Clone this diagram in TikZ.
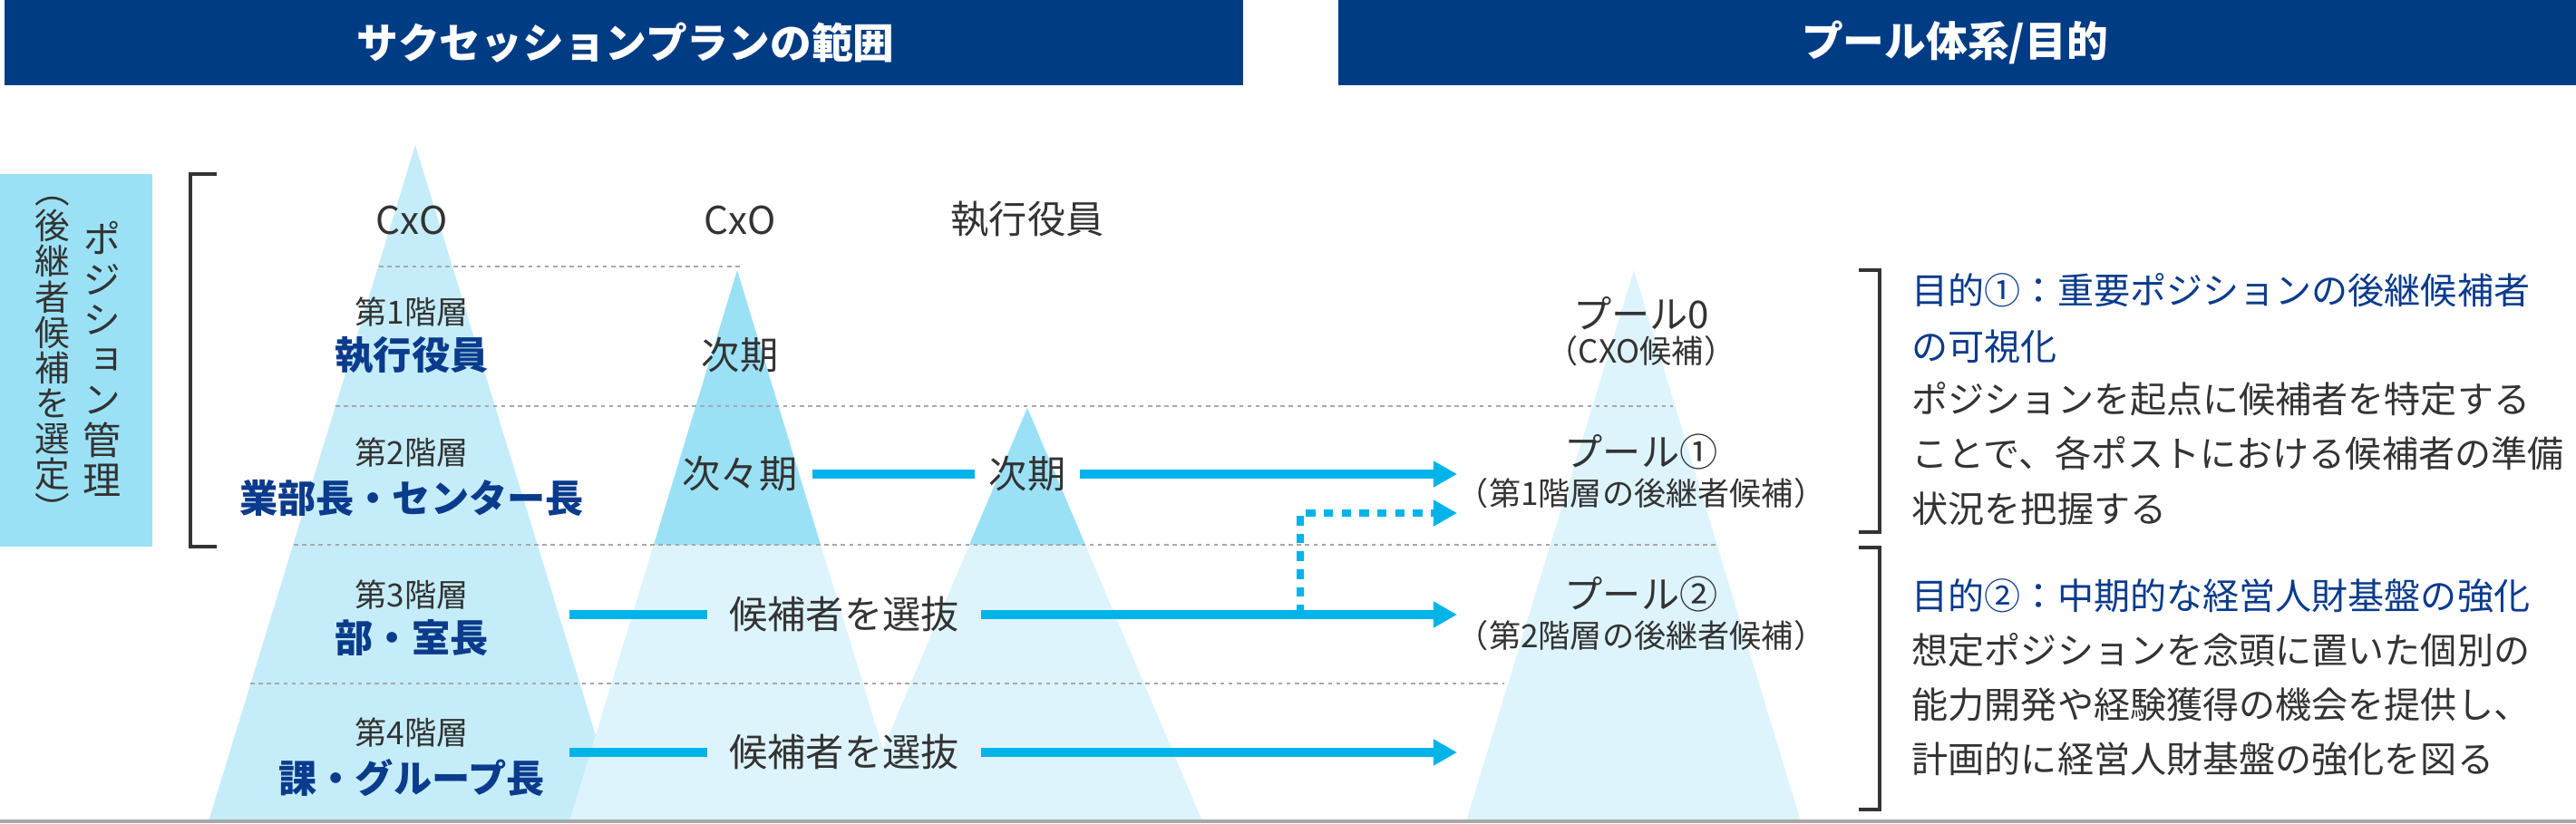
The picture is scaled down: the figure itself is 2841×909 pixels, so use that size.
\documentclass[tikz,border=0pt]{standalone}
\usepackage{fontspec}
\setmainfont{Noto Sans CJK JP}
\newfontfamily\vfont[RawFeature=+vert]{Noto Sans CJK JP}
\usetikzlibrary{arrows.meta}
\definecolor{hdr}{HTML}{003C84}
\definecolor{txt}{HTML}{333333}
\definecolor{bl}{HTML}{0B3B8C}
\definecolor{cy}{HTML}{00B4EA}
\definecolor{triA}{HTML}{C5EDF9}
\definecolor{triL}{HTML}{DDF4FC}
\definecolor{triD}{HTML}{9BE1F6}
\definecolor{gr}{HTML}{A8A8A8}
\tikzset{
  lbl/.style={text=txt,font=\fontsize{12}{14}\selectfont,inner sep=1pt},
  sml/.style={text=txt,font=\fontsize{10}{12}\selectfont,inner sep=1pt},
  blu/.style={text=bl,font=\fontsize{12}{14}\selectfont\bfseries,inner sep=1pt},
  rtxt/.style={text=txt,font=\fontsize{11.4}{14}\selectfont,anchor=base west,inner sep=0pt},
  rhead/.style={rtxt,text=bl},
  divider/.style={gr,line width=0.7pt,dash pattern=on 1.3pt off 1.3pt},
  flow/.style={cy,line width=2.6pt},
  flowarr/.style={flow,-{Triangle[length=7.4pt,width=7.8pt]}},
  dotarr/.style={cy,line width=2.2pt,dash pattern=on 3pt off 2.6pt,-{Triangle[length=7.4pt,width=7.8pt]}},
  brk/.style={txt,line width=0.9pt},
  hbar/.style={fill=hdr,draw=none}
}
\begin{document}
\begin{tikzpicture}[x=0.01cm,y=-0.01cm]
\useasboundingbox (0,0) rectangle (2841,909);
% headers
\fill[hdr] (5,0) rectangle (1371,94);
\fill[hdr] (1476,0) rectangle (2841,94);
\node[text=white,font=\fontsize{13}{15}\selectfont\bfseries] (h1) at (690,47) {サクセッションプランの範囲};
\node[text=white,font=\fontsize{13}{15}\selectfont\bfseries] (h2) at (2156,47) {プール体系/目的};
% triangles
\fill[triA] (458,160) -- (686,906) -- (230,906) -- cycle;
\fill[triL] (813,298) -- (998,906) -- (628,906) -- cycle;
\fill[triD] (813,298) -- (905,601) -- (721,601) -- cycle;
\fill[triL] (1133,450) -- (1326,906) -- (940,906) -- cycle;
\fill[triD] (1133,450) -- (1197,601) -- (1069,601) -- cycle;
\fill[triL] (1802,298) -- (1986,906) -- (1617,906) -- cycle;
% dividers
\draw[divider] (418,294) -- (818,294);
\draw[divider] (370,448) -- (1845,448);
\draw[divider] (324,601) -- (1894,601);
\draw[divider] (276,754) -- (1659,754);
\draw[gr,line width=0.9pt] (0,906) -- (2841,906);
% left box
\fill[triD] (0,192) rectangle (168,603);
\node[text=txt,font=\vfont\fontsize{12}{12.6}\selectfont,align=center,inner sep=0pt] (v1) at (113,396) {ポ\\ジ\\シ\\ョ\\ン\\管\\理};
\node[text=txt,font=\vfont\fontsize{11}{11.1}\selectfont,align=center,inner sep=0pt] (v2) at (58,397) {（\\後\\継\\者\\候\\補\\を\\選\\定\\）};
\draw[brk] (239,192) -- (210,192) -- (210,603) -- (239,603);
% labels
\node[lbl] (c1) at (454,243) {CxO};
\node[lbl] (c2) at (816,243) {CxO};
\node[lbl] (c3) at (1133,242) {執行役員};
\node[sml] (t1) at (454,344) {第1階層};
\node[blu] (b1) at (454,392) {執行役員};
\node[lbl] (n1) at (816,392) {次期};
\node[sml] (t2) at (454,499) {第2階層};
\node[blu] (b2) at (454,549) {業部長・センター長};
\node[lbl] (nn) at (816,523) {次々期};
\node[lbl] (n2) at (1133,523) {次期};
\node[sml] (t3) at (454,656) {第3階層};
\node[blu] (b3) at (454,704) {部・室長};
\node[sml] (t4) at (454,808) {第4階層};
\node[blu] (b4) at (454,858) {課・グループ長};
\node[lbl] (s1) at (931,678) {候補者を選抜};
\node[lbl] (s2) at (931,830) {候補者を選抜};
% pool
\node[lbl] (p0) at (1810,346) {プール0};
\node[sml] (p0s) at (1810,387) {（CXO候補）};
\node[lbl] (p1) at (1810,498) {プール①};
\node[sml] (p1s) at (1810,544) {（第1階層の後継者候補）};
\node[lbl] (p2) at (1810,655) {プール②};
\node[sml] (p2s) at (1810,701) {（第2階層の後継者候補）};
% connectors
\coordinate (a1) at (1607,523);
\coordinate (a2) at (1607,678);
\coordinate (a3) at (1607,830);
\coordinate (a4) at (1607,566);
\coordinate (l3) at (628,678);
\coordinate (l4) at (628,830);
\coordinate (d0) at (1434,678);
\draw[flow] (nn.east) ++(12,0) -- ([xshift=-0.12cm]n2.west);
\draw[flowarr] ([xshift=0.12cm]n2.east) -- (a1);
\draw[flow] (l3) -- ([xshift=-0.2cm]s1.west);
\draw[flowarr] ([xshift=0.2cm]s1.east) -- (a2);
\draw[flow] (l4) -- ([xshift=-0.2cm]s2.west);
\draw[flowarr] ([xshift=0.2cm]s2.east) -- (a3);
\draw[dotarr] (d0) |- (a4);
% right brackets
\draw[brk] (2050,298) -- (2073,298) -- (2073,587) -- (2050,587);
\draw[brk] (2050,604) -- (2073,604) -- (2073,893) -- (2050,893);
% right texts
\node[rhead] (r1) at (2108,335) {目的①：重要ポジションの後継候補者};
\node[rhead] (r2) at (2108,397) {の可視化};
\node[rtxt] (r3) at (2108,455) {ポジションを起点に候補者を特定する};
\node[rtxt] (r4) at (2108,515) {ことで、各ポストにおける候補者の準備};
\node[rtxt] (r5) at (2108,576) {状況を把握する};
\node[rhead] (r6) at (2108,672) {目的②：中期的な経営人財基盤の強化};
\node[rtxt] (r7) at (2108,732) {想定ポジションを念頭に置いた個別の};
\node[rtxt] (r8) at (2108,792) {能力開発や経験獲得の機会を提供し、};
\node[rtxt] (r9) at (2108,852) {計画的に経営人財基盤の強化を図る};
\end{tikzpicture}
\end{document}
